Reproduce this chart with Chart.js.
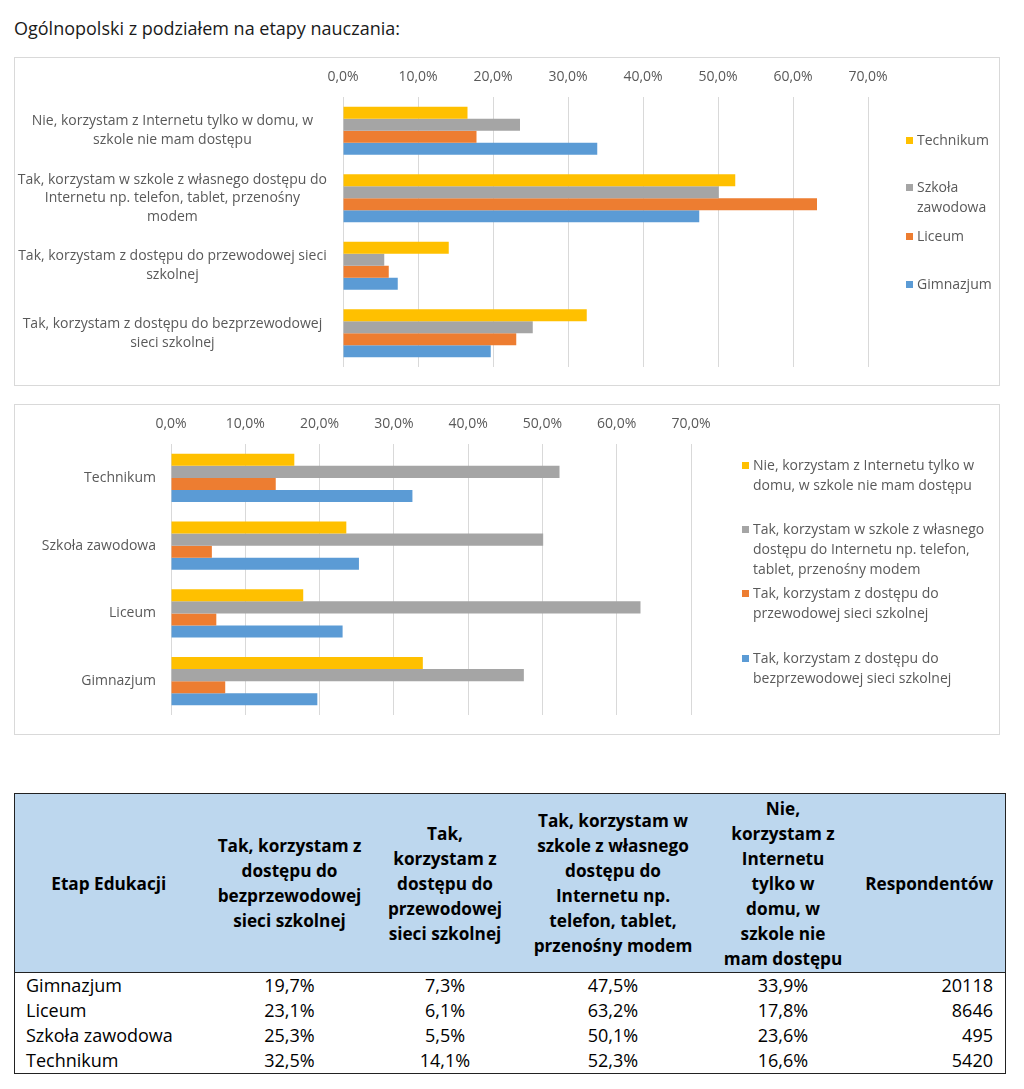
<!DOCTYPE html>
<html lang="pl">
<head>
<meta charset="UTF-8">
<title>Ogólnopolski z podziałem na etapy nauczania</title>
<script src="https://cdn.jsdelivr.net/npm/chart.js"></script>
<style>
  body { margin: 0; background: #fff; font-family: "Open Sans", sans-serif; color: #1a1a1a; }
  #page { position: relative; width: 1024px; height: 1089px; }
  h1 { position: absolute; left: 14px; top: 16px; margin: 0; font-size: 18px; font-weight: normal; line-height: 24px; }
  .box { position: absolute; left: 14px; width: 984px; border: 1px solid #d9d9d9; }
  .legend-item { position: absolute; font-size: 14px; color: #595959; line-height: 20px; padding-left: 11px; white-space: nowrap; }
  .legend-item i { position: absolute; left: 0; top: 7px; width: 7px; height: 7px; }
  table { position: absolute; left: 14px; top: 793px; border-collapse: collapse; table-layout: fixed;
          border: 1.5px solid #222; font-size: 18px; color: #000; }
  th { background: #bdd7ee; font-weight: bold; font-size: 17.2px; line-height: 25px; height: 178px; padding: 0;
       text-align: center; vertical-align: middle; border-bottom: 1.5px solid #222; }
  td { height: 25px; line-height: 25px; padding: 0; text-align: center; white-space: nowrap; }
  td.first { text-align: left; padding-left: 11px; }
  td.last { text-align: right; padding-right: 12px; }
</style>
</head>
<body>
<div id="page">
  <h1>Ogólnopolski z podziałem na etapy nauczania:</h1>

  <div class="box" style="top:57px; height:327px;"><canvas id="chartOdpowiedzi"></canvas></div>
  <div class="box" style="top:404px; height:329px;"><canvas id="chartEtapy"></canvas></div>

  <table id="tabela"></table>
</div>

<script>
// ---- data (from the table) ----
const etapy = ['Gimnazjum', 'Liceum', 'Szkoła zawodowa', 'Technikum'];
const bezprzewodowa = [19.7, 23.1, 25.3, 32.5];
const przewodowa = [7.3, 6.1, 5.5, 14.1];
const wlasnyDostep = [47.5, 63.2, 50.1, 52.3];
const tylkoDom = [33.9, 17.8, 23.6, 16.6];
const respondentow = [20118, 8646, 495, 5420];
const xTicks = [0, 10, 20, 30, 40, 50, 60, 70];

// answer labels, wrapped the way each place shows them
const odpowiedziOs = [
  ['Nie, korzystam z Internetu tylko w domu, w', 'szkole nie mam dostępu'],
  ['Tak, korzystam w szkole z własnego dostępu do', 'Internetu np. telefon, tablet, przenośny', 'modem'],
  ['Tak, korzystam z dostępu do przewodowej sieci', 'szkolnej'],
  ['Tak, korzystam z dostępu do bezprzewodowej', 'sieci szkolnej']
];
const odpowiedziLegenda = [
  ['Nie, korzystam z Internetu tylko w', 'domu, w szkole nie mam dostępu'],
  ['Tak, korzystam w szkole z własnego', 'dostępu do Internetu np. telefon,', 'tablet, przenośny modem'],
  ['Tak, korzystam z dostępu do', 'przewodowej sieci szkolnej'],
  ['Tak, korzystam z dostępu do', 'bezprzewodowej sieci szkolnej']
];
const naglowki = [
  ['Etap Edukacji'],
  ['Tak, korzystam z', 'dostępu do', 'bezprzewodowej', 'sieci szkolnej'],
  ['Tak,', 'korzystam z', 'dostępu do', 'przewodowej', 'sieci szkolnej'],
  ['Tak, korzystam w', 'szkole z własnego', 'dostępu do', 'Internetu np.', 'telefon, tablet,', 'przenośny modem'],
  ['Nie,', 'korzystam z', 'Internetu', 'tylko w', 'domu, w', 'szkole nie', 'mam dostępu'],
  ['Respondentów']
];

// ---- styles ----
const kolory = ['#ffc000', '#a5a5a5', '#ed7d31', '#5b9bd5'];
const szary = '#595959';
const siatka = '#d9d9d9';
const pct = v => v.toFixed(1).replace('.', ',') + '%';

const odpowiedzi = [tylkoDom, wlasnyDostep, przewodowa, bezprzewodowa];
const kolejnosc = [3, 2, 1, 0]; // Technikum first, Gimnazjum last

function xScale() {
  return {
    position: 'top', min: 0, max: 70,
    afterBuildTicks: s => { s.ticks = xTicks.map(v => ({ value: v })); },
    ticks: { callback: v => pct(v), color: szary, padding: 12, font: { family: 'Open Sans', size: 14 } },
    grid: { color: siatka, drawTicks: false },
    border: { display: false },
    afterFit: s => { s.height = 39; }
  };
}

function yScale(width, extra) {
  return {
    grid: { display: false, drawTicks: false }, border: { display: false },
    ticks: Object.assign({ autoSkip: false, color: szary }, extra),
    afterFit: s => { s.width = width; s.paddingTop = 0; s.paddingBottom = 0; }
  };
}

function bars(label, data, i) {
  return { label, data, backgroundColor: kolory[i], borderWidth: 0, categoryPercentage: 0.71, barPercentage: 1 };
}

// ---- chart 1: answers on the axis, school types as series ----
new Chart(document.getElementById('chartOdpowiedzi'), {
  type: 'bar',
  data: {
    labels: odpowiedziOs,
    datasets: kolejnosc.map((e, i) => bars(etapy[e], odpowiedzi.map(arr => arr[e]), i))
  },
  options: {
    indexAxis: 'y', responsive: true, maintainAspectRatio: false, animation: false,
    layout: { padding: { left: 0, right: 131, top: 0, bottom: 18 } },
    plugins: { legend: { display: false }, tooltip: { enabled: false } },
    scales: {
      x: xScale(),
      y: yScale(328, { crossAlign: 'center', padding: 16, font: { family: 'Open Sans', size: 14, lineHeight: 1.33 } })
    }
  }
});

// ---- chart 2: school types on the axis, answers as series ----
new Chart(document.getElementById('chartEtapy'), {
  type: 'bar',
  data: {
    labels: kolejnosc.map(e => etapy[e]),
    datasets: odpowiedzi.map((arr, i) => bars(odpowiedziLegenda[i].join(' '), kolejnosc.map(e => arr[e]), i))
  },
  options: {
    indexAxis: 'y', responsive: true, maintainAspectRatio: false, animation: false,
    layout: { padding: { left: 0, right: 308, top: 0, bottom: 19 } },
    plugins: { legend: { display: false }, tooltip: { enabled: false } },
    scales: {
      x: xScale(),
      y: yScale(156, { padding: 15, font: { family: 'Open Sans', size: 14 } })
    }
  }
});

// ---- legends (HTML, multi-line like Excel) ----
const page = document.getElementById('page');
function legendItem(lines, color, left, top) {
  const d = document.createElement('div');
  d.className = 'legend-item';
  d.style.left = left + 'px';
  d.style.top = top + 'px';
  d.innerHTML = '<i style="background:' + color + '"></i>' + lines.join('<br>');
  page.appendChild(d);
}
const legenda1Top = [130, 177, 226, 274];
const legenda1Linie = [['Technikum'], ['Szkoła', 'zawodowa'], ['Liceum'], ['Gimnazjum']];
legenda1Linie.forEach((l, i) => legendItem(l, kolory[i], 906, legenda1Top[i]));
const legenda2Top = [455, 519, 583, 648];
odpowiedziLegenda.forEach((l, i) => legendItem(l, kolory[i], 742, legenda2Top[i]));

// ---- table ----
const szerokosci = [188, 174, 137, 199, 141, 152];
const tab = document.getElementById('tabela');
let html = '<colgroup>' + szerokosci.map(w => '<col style="width:' + w + 'px">').join('') + '</colgroup>';
html += '<tr>' + naglowki.map(h => '<th>' + h.join('<br>') + '</th>').join('') + '</tr>';
etapy.forEach((e, i) => {
  html += '<tr><td class="first">' + e + '</td>' +
    '<td>' + pct(bezprzewodowa[i]) + '</td>' +
    '<td>' + pct(przewodowa[i]) + '</td>' +
    '<td>' + pct(wlasnyDostep[i]) + '</td>' +
    '<td>' + pct(tylkoDom[i]) + '</td>' +
    '<td class="last">' + respondentow[i] + '</td></tr>';
});
tab.innerHTML = html;
</script>
</body>
</html>
